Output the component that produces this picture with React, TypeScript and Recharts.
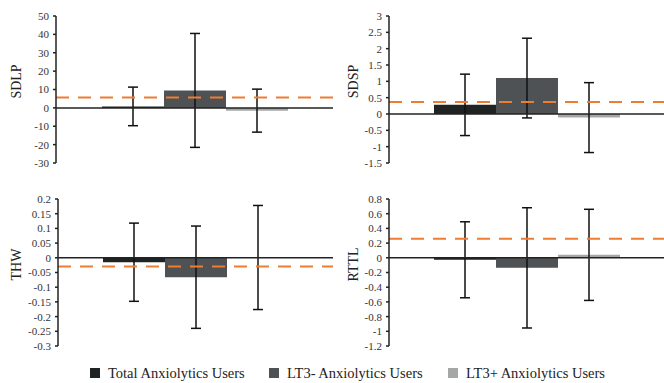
import { BarChart, Bar, XAxis, YAxis, ReferenceLine, ErrorBar } from 'recharts'

// groups, in the order the bars are drawn
const groups = ['Total Anxiolytics Users', 'LT3- Anxiolytics Users', 'LT3+ Anxiolytics Users']
const groupColors = ['#1f2323', '#4e5254', '#a5a7a7']

// mean change per group, plus symmetric error (half-width of the whisker)
const sdlpMeans = [0.8, 9.5, -1.5]
const sdlpErrors = [10.5, 31, 11.7]
const sdlpRef = 5.7
const sdlpTicks = [50, 40, 30, 20, 10, 0, -10, -20, -30]

const sdspMeans = [0.28, 1.1, -0.11]
const sdspErrors = [0.94, 1.22, 1.07]
const sdspRef = 0.37
const sdspTicks = [3, 2.5, 2, 1.5, 1, 0.5, 0, -0.5, -1, -1.5]

const thwMeans = [-0.015, -0.066, 0.001]
const thwErrors = [0.133, 0.174, 0.177]
const thwRef = -0.03
const thwTicks = [0.2, 0.15, 0.1, 0.05, 0, -0.05, -0.1, -0.15, -0.2, -0.25, -0.3]

const rttlMeans = [-0.027, -0.137, 0.04]
const rttlErrors = [0.517, 0.818, 0.62]
const rttlRef = 0.26
const rttlTicks = [0.8, 0.6, 0.4, 0.2, 0, -0.2, -0.4, -0.6, -0.8, -1, -1.2]

const FONT = '"Liberation Serif", "Times New Roman", serif'
const keys = ['total', 'lt3m', 'lt3p']

const buildRow = (name: string, means: number[], errors: number[]) => {
  const row: any = { name }
  keys.forEach((k, i) => {
    row[k] = means[i]
    row[k + 'Err'] = errors[i]
  })
  return [row]
}

const AxisTitle = ({ viewBox, value, cx }: any) => {
  const y = viewBox.y + viewBox.height / 2 - 8
  return (
    <text
      x={cx}
      y={y}
      transform={`rotate(-90 ${cx} ${y})`}
      textAnchor="middle"
      dominantBaseline="central"
      fontFamily={FONT}
      fontSize={14}
      fill="#222"
    >
      {value}
    </text>
  )
}

interface PanelProps {
  title: string
  means: number[]
  errors: number[]
  refValue: number
  ticks: number[]
  left: number
  top: number
  width: number
  axisWidth: number
  titleX: number
}

function Panel({ title, means, errors, refValue, ticks, left, top, width, axisWidth, titleX }: PanelProps) {
  const data = buildRow(title, means, errors)
  return (
    <div style={{ position: 'absolute', left, top }}>
      <BarChart
        width={width}
        height={175}
        data={data}
        margin={{ top: 16, right: 0, bottom: 12, left: 0 }}
        barSize={62}
        barGap={0}
      >
        <XAxis dataKey="name" hide />
        <YAxis
          width={axisWidth}
          domain={[ticks[ticks.length - 1], ticks[0]]}
          ticks={ticks}
          interval={0}
          tickSize={3}
          tickMargin={4}
          axisLine={{ stroke: '#222', strokeWidth: 1.5 }}
          tickLine={{ stroke: '#222', strokeWidth: 1.5 }}
          tick={{ fontFamily: FONT, fontSize: 11, fill: '#333' }}
          label={<AxisTitle value={title} cx={titleX} />}
        />
        {keys.map((k, i) => (
          <Bar key={k} dataKey={k} name={groups[i]} fill={groupColors[i]} isAnimationActive={false}>
            <ErrorBar dataKey={k + 'Err'} width={5} stroke="#111" strokeWidth={1.5} direction="y" />
          </Bar>
        ))}
        <ReferenceLine y={0} stroke="#222" strokeWidth={1.5} />
        <ReferenceLine y={refValue} stroke="#ed7d31" strokeWidth={2} strokeDasharray="13 9" />
      </BarChart>
    </div>
  )
}

export default function App() {
  return (
    <div style={{ position: 'absolute', left: 0, top: 0, width: 664, height: 383, background: '#fff' }}>
      <Panel title="SDLP" means={sdlpMeans} errors={sdlpErrors} refValue={sdlpRef} ticks={sdlpTicks}
        left={0} top={0} width={333} axisWidth={56} titleX={16} />
      <Panel title="SDSP" means={sdspMeans} errors={sdspErrors} refValue={sdspRef} ticks={sdspTicks}
        left={333} top={0} width={331} axisWidth={56} titleX={20} />
      <Panel title="THW" means={thwMeans} errors={thwErrors} refValue={thwRef} ticks={thwTicks}
        left={0} top={183} width={333} axisWidth={58} titleX={16} />
      <Panel title="RTTL" means={rttlMeans} errors={rttlErrors} refValue={rttlRef} ticks={rttlTicks}
        left={333} top={183} width={331} axisWidth={56} titleX={20} />

      {/* legend */}
      {groups.map((g, i) => (
        <div
          key={g}
          style={{
            position: 'absolute',
            left: [90, 269, 448][i],
            top: 364,
            display: 'flex',
            alignItems: 'center',
            fontFamily: FONT,
            fontSize: 14.5,
            color: '#222',
            whiteSpace: 'nowrap',
            lineHeight: '18px',
          }}
        >
          <span style={{ display: 'inline-block', width: 10, height: 10, background: groupColors[i], marginRight: 8 }} />
          {g}
        </div>
      ))}
    </div>
  )
}
